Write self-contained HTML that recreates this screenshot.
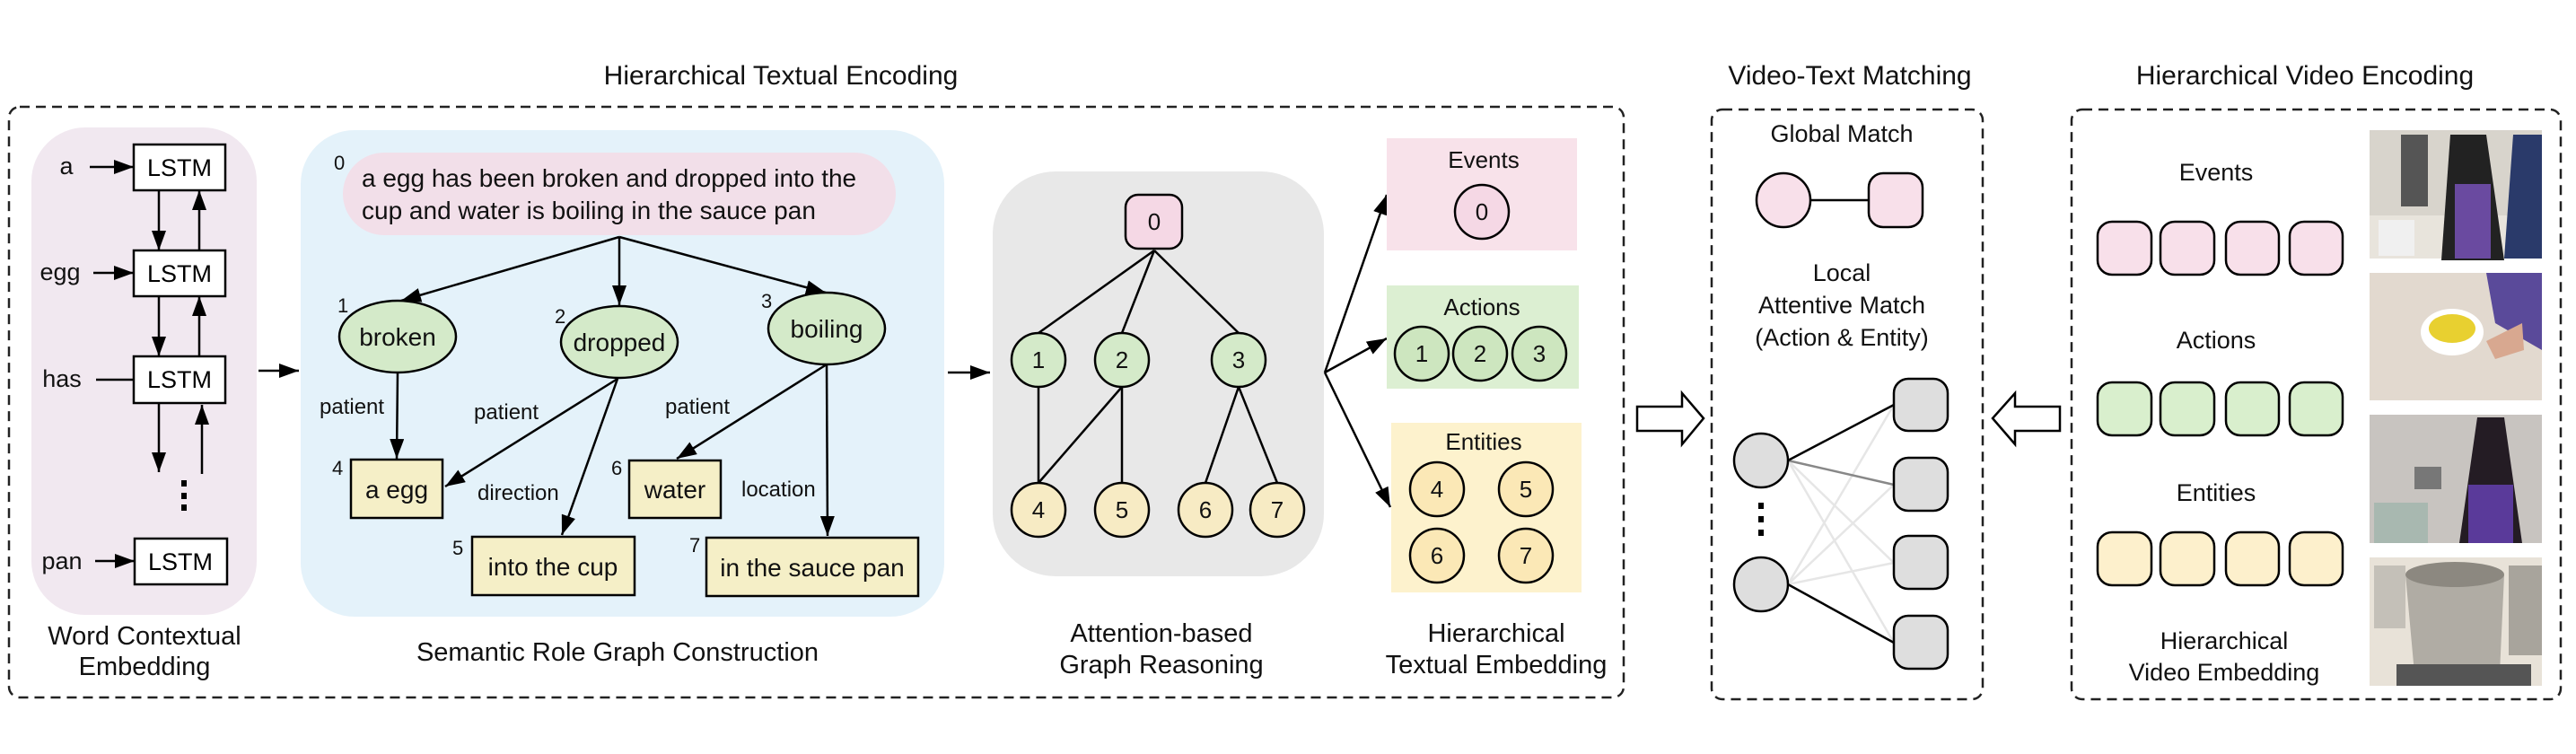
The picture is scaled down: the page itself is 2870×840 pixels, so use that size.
<!DOCTYPE html>
<html><head><meta charset="utf-8"><style>html,body{margin:0;padding:0;background:#fff}svg{display:block}</style></head>
<body>
<svg width="2870" height="840" viewBox="0 0 2870 840" xmlns="http://www.w3.org/2000/svg" font-family="Liberation Sans, sans-serif">
<defs>
<marker id="ah" markerWidth="10" markerHeight="8" refX="9" refY="4" orient="auto" markerUnits="userSpaceOnUse" viewBox="0 0 10 8">
</marker>
<marker id="a" viewBox="0 0 10 10" refX="10" refY="5" markerWidth="22" markerHeight="16" markerUnits="userSpaceOnUse" orient="auto" preserveAspectRatio="none"><path d="M0,0 L10,5 L0,10 z" fill="#000"/></marker>
</defs>
<g fill="#111">
<text x="870" y="94" font-size="30" text-anchor="middle">Hierarchical Textual Encoding</text>
<text x="2061" y="94" font-size="30" text-anchor="middle">Video-Text Matching</text>
<text x="2568" y="94" font-size="30" text-anchor="middle">Hierarchical Video Encoding</text>
</g>
<!-- dashed boxes -->
<g fill="none" stroke="#222" stroke-width="2.5" stroke-dasharray="11 7">
<rect x="10" y="119" width="1799" height="658" rx="12"/>
<rect x="1907" y="122" width="302" height="657" rx="12"/>
<rect x="2308" y="122" width="545" height="657" rx="12"/>
</g>
<!-- word contextual panel -->
<rect x="35" y="142" width="251" height="543" rx="60" fill="#f1e8f0"/>
<g fill="#fff" stroke="#000" stroke-width="2.5">
<rect x="149" y="161" width="102" height="51"/>
<rect x="149" y="279" width="102" height="51"/>
<rect x="149" y="397" width="102" height="52"/>
<rect x="150" y="600" width="103" height="51"/>
</g>
<g font-size="27" text-anchor="middle" fill="#000">
<text x="200" y="196">LSTM</text><text x="200" y="314">LSTM</text><text x="200" y="432">LSTM</text><text x="201" y="635">LSTM</text>
</g>
<g font-size="27" fill="#111" text-anchor="middle">
<text x="74" y="194">a</text><text x="67" y="312">egg</text><text x="69" y="431">has</text><text x="69" y="634">pan</text>
</g>
<g stroke="#000" stroke-width="2.5" marker-end="url(#a)">
<line x1="100" y1="186" x2="149" y2="186"/>
<line x1="104" y1="304" x2="149" y2="304"/>
<line x1="106" y1="625" x2="150" y2="625"/>
<line x1="177" y1="212" x2="177" y2="279"/>
<line x1="222" y1="279" x2="222" y2="212"/>
<line x1="177" y1="330" x2="177" y2="397"/>
<line x1="222" y1="397" x2="222" y2="330"/>
<line x1="177" y1="449" x2="177" y2="526"/>
<line x1="225" y1="528" x2="225" y2="451"/>
<line x1="288" y1="413" x2="333" y2="413"/>
<line x1="1056" y1="415" x2="1103" y2="415"/>
</g>
<line x1="107" y1="423" x2="149" y2="423" stroke="#000" stroke-width="2.5"/>
<g fill="#000"><rect x="202" y="535" width="6" height="7"/><rect x="202" y="549" width="6" height="7"/><rect x="202" y="562" width="6" height="7"/></g>
<g font-size="29" text-anchor="middle" fill="#111">
<text x="161" y="718">Word Contextual</text><text x="161" y="752">Embedding</text>
<text x="688" y="736">Semantic Role Graph Construction</text>
<text x="1294" y="715">Attention-based</text><text x="1294" y="750">Graph Reasoning</text>
<text x="1667" y="715">Hierarchical</text><text x="1667" y="750">Textual Embedding</text>
</g>
<!-- semantic panel -->
<rect x="335" y="145" width="717" height="542" rx="60" fill="#e4f2fa"/>
<rect x="382" y="170" width="616" height="92" rx="46" fill="#f2dfe9"/>
<g font-size="28" fill="#111">
<text x="403" y="208">a egg has been broken and dropped into the</text>
<text x="403" y="244">cup and water is boiling in the sauce pan</text>
</g>
<g font-size="22" fill="#111">
<text x="372" y="189">0</text><text x="376" y="348">1</text><text x="618" y="360">2</text><text x="848" y="343">3</text>
<text x="370" y="529">4</text><text x="504" y="618">5</text><text x="681" y="529">6</text><text x="768" y="615">7</text>
</g>
<g stroke="#000" stroke-width="2.5" fill="none" marker-end="url(#a)">
<line x1="690" y1="264" x2="447" y2="335"/>
<line x1="690" y1="264" x2="690" y2="340"/>
<line x1="690" y1="264" x2="920" y2="326"/>
<line x1="443" y1="415" x2="442" y2="511"/>
<line x1="688" y1="422" x2="496" y2="542"/>
<line x1="688" y1="422" x2="626" y2="596"/>
<line x1="921" y1="406" x2="754" y2="511"/>
<line x1="921" y1="406" x2="922" y2="597"/>
</g>
<g fill="#d4eac9" stroke="#000" stroke-width="2.5">
<ellipse cx="443" cy="375" rx="65" ry="40"/>
<ellipse cx="690" cy="381" rx="65" ry="40"/>
<ellipse cx="921" cy="366" rx="65" ry="40"/>
</g>
<g fill="#f5efc7" stroke="#000" stroke-width="2.5">
<rect x="391" y="512" width="102" height="65"/>
<rect x="526" y="598" width="181" height="65"/>
<rect x="701" y="513" width="102" height="64"/>
<rect x="787" y="599" width="236" height="65"/>
</g>
<g font-size="28" text-anchor="middle" fill="#111">
<text x="443" y="385">broken</text><text x="690" y="391">dropped</text><text x="921" y="376">boiling</text>
<text x="442" y="555">a egg</text><text x="616" y="641">into the cup</text><text x="752" y="555">water</text><text x="905" y="642">in the sauce pan</text>
</g>
<g font-size="24" fill="#111">
<text x="356" y="461">patient</text><text x="528" y="467">patient</text><text x="532" y="557">direction</text>
<text x="741" y="461">patient</text><text x="826" y="553">location</text>
</g>
<!-- attention panel -->
<rect x="1106" y="191" width="369" height="451" rx="70" fill="#e8e8e8"/>
<g stroke="#000" stroke-width="2.5">
<line x1="1286" y1="279" x2="1157" y2="371"/><line x1="1286" y1="279" x2="1250" y2="371"/><line x1="1286" y1="279" x2="1380" y2="371"/>
<line x1="1157" y1="431" x2="1157" y2="538"/><line x1="1250" y1="431" x2="1157" y2="538"/><line x1="1250" y1="431" x2="1250" y2="538"/>
<line x1="1380" y1="431" x2="1343" y2="538"/><line x1="1380" y1="431" x2="1423" y2="538"/>
</g>
<rect x="1254" y="217" width="63" height="60" rx="14" fill="#f5d8e5" stroke="#000" stroke-width="2.5"/>
<g stroke="#000" stroke-width="2.5">
<g fill="#d4eac9"><circle cx="1157" cy="401" r="30"/><circle cx="1250" cy="401" r="30"/><circle cx="1380" cy="401" r="30"/></g>
<g fill="#f7ebc4"><circle cx="1157" cy="568" r="30"/><circle cx="1250" cy="568" r="30"/><circle cx="1343" cy="568" r="30"/><circle cx="1423" cy="568" r="30"/></g>
</g>
<g font-size="26" text-anchor="middle" fill="#111">
<text x="1286" y="256">0</text>
<text x="1157" y="410">1</text><text x="1250" y="410">2</text><text x="1380" y="410">3</text>
<text x="1157" y="577">4</text><text x="1250" y="577">5</text><text x="1343" y="577">6</text><text x="1423" y="577">7</text>
</g>
<!-- fan out -->
<g stroke="#000" stroke-width="2.5" marker-end="url(#a)">
<line x1="1476" y1="415" x2="1545" y2="217"/>
<line x1="1476" y1="415" x2="1545" y2="377"/>
<line x1="1476" y1="415" x2="1549" y2="565"/>
</g>
<rect x="1545" y="154" width="212" height="125" fill="#f8e2ea"/>
<rect x="1545" y="318" width="214" height="115" fill="#dcefd2"/>
<rect x="1550" y="471" width="212" height="189" fill="#fdf2cd"/>
<g stroke="#000" stroke-width="2.5">
<circle cx="1651" cy="236" r="30" fill="#f5d8e5"/>
<g fill="#cde6bf"><circle cx="1584" cy="394" r="30"/><circle cx="1649" cy="394" r="30"/><circle cx="1715" cy="394" r="30"/></g>
<g fill="#fbe8b6"><circle cx="1601" cy="545" r="30"/><circle cx="1700" cy="545" r="30"/><circle cx="1601" cy="619" r="30"/><circle cx="1700" cy="619" r="30"/></g>
</g>
<g font-size="26" text-anchor="middle" fill="#111">
<text x="1653" y="187">Events</text><text x="1651" y="245">0</text>
<text x="1651" y="351">Actions</text><text x="1584" y="403">1</text><text x="1649" y="403">2</text><text x="1715" y="403">3</text>
<text x="1653" y="501">Entities</text><text x="1601" y="554">4</text><text x="1700" y="554">5</text><text x="1601" y="628">6</text><text x="1700" y="628">7</text>
</g>
<!-- hollow arrows -->
<path d="M1824,453 L1874,453 L1874,438 L1898,466 L1874,495 L1874,480 L1824,480 Z" fill="#fff" stroke="#000" stroke-width="2.5"/>
<path d="M2295,453 L2245,453 L2245,438 L2220,466 L2245,495 L2245,480 L2295,480 Z" fill="#fff" stroke="#000" stroke-width="2.5"/>
<!-- matching -->
<g font-size="27" text-anchor="middle" fill="#111">
<text x="2052" y="158">Global Match</text>
<text x="2052" y="313">Local</text><text x="2052" y="349">Attentive Match</text><text x="2052" y="385">(Action &amp; Entity)</text>
</g>
<line x1="2017" y1="223" x2="2082" y2="223" stroke="#000" stroke-width="2.5"/>
<circle cx="1987" cy="223" r="30" fill="#f8e0ea" stroke="#000" stroke-width="2.5"/>
<rect x="2082" y="193" width="60" height="60" rx="16" fill="#f8e0ea" stroke="#000" stroke-width="2.5"/>
<g stroke-width="2.5">
<line x1="1992" y1="513" x2="2110" y2="627" stroke="#e6e6e6"/><line x1="1992" y1="513" x2="2110" y2="716" stroke="#e6e6e6"/>
<line x1="1992" y1="651" x2="2110" y2="451" stroke="#e6e6e6"/><line x1="1992" y1="651" x2="2110" y2="540" stroke="#e6e6e6"/><line x1="1992" y1="651" x2="2110" y2="627" stroke="#e6e6e6"/>
<line x1="1992" y1="513" x2="2110" y2="540" stroke="#888"/>
<line x1="1992" y1="513" x2="2110" y2="451" stroke="#000"/>
<line x1="1992" y1="651" x2="2110" y2="716" stroke="#000"/>
</g>
<g fill="#dedede" stroke="#000" stroke-width="2.5">
<circle cx="1962" cy="513" r="30"/><circle cx="1962" cy="651" r="30"/>
<rect x="2110" y="422" width="60" height="58" rx="16"/><rect x="2110" y="510" width="60" height="59" rx="16"/>
<rect x="2110" y="597" width="60" height="59" rx="16"/><rect x="2110" y="686" width="60" height="59" rx="16"/>
</g>
<g fill="#000"><rect x="1959" y="560" width="6" height="7"/><rect x="1959" y="575" width="6" height="7"/><rect x="1959" y="590" width="6" height="7"/></g>
<!-- video encoding -->
<g font-size="27" text-anchor="middle" fill="#111">
<text x="2469" y="201">Events</text><text x="2469" y="388">Actions</text><text x="2469" y="558">Entities</text>
<text x="2478" y="723">Hierarchical</text><text x="2478" y="758">Video Embedding</text>
</g>
<g stroke="#000" stroke-width="2.5">
<g fill="#f8e0ea"><rect x="2337" y="247" width="60" height="59" rx="16"/><rect x="2407" y="247" width="60" height="59" rx="16"/><rect x="2480" y="247" width="59" height="59" rx="16"/><rect x="2551" y="247" width="59" height="59" rx="16"/></g>
<g fill="#d9efcd"><rect x="2337" y="426" width="60" height="59" rx="16"/><rect x="2407" y="426" width="60" height="59" rx="16"/><rect x="2480" y="426" width="59" height="59" rx="16"/><rect x="2551" y="426" width="59" height="59" rx="16"/></g>
<g fill="#fdf0cc"><rect x="2337" y="593" width="60" height="59" rx="16"/><rect x="2407" y="593" width="60" height="59" rx="16"/><rect x="2480" y="593" width="59" height="59" rx="16"/><rect x="2551" y="593" width="59" height="59" rx="16"/></g>
</g>
<!-- photos -->
<g>
<rect x="2640" y="145" width="192" height="143" fill="#d8d4cc"/>
<rect x="2640" y="240" width="192" height="48" fill="#e8e4dc"/>
<rect x="2675" y="150" width="30" height="80" fill="#555"/>
<path d="M2730,150 L2770,150 L2790,290 L2720,290 Z" fill="#222"/>
<rect x="2735" y="205" width="40" height="83" fill="#6a4aa0"/>
<path d="M2800,150 L2832,150 L2832,288 L2790,288 Z" fill="#2a3a6a"/>
<rect x="2650" y="245" width="40" height="40" fill="#f0f0f0"/>
<rect x="2640" y="304" width="192" height="142" fill="#e2d9cf"/>
<path d="M2770,304 L2832,304 L2832,390 L2780,360 Z" fill="#5a4a9a"/>
<ellipse cx="2732" cy="370" rx="35" ry="26" fill="#fff"/>
<ellipse cx="2732" cy="366" rx="26" ry="16" fill="#e8d030"/>
<path d="M2770,380 L2810,360 L2812,390 L2780,400 Z" fill="#d8a890"/>
<rect x="2640" y="462" width="192" height="143" fill="#c8c4c0"/>
<path d="M2760,465 L2790,465 L2810,605 L2740,605 Z" fill="#241c24"/>
<rect x="2750" y="540" width="50" height="65" fill="#5a3a9a"/>
<rect x="2645" y="560" width="60" height="45" fill="#a8b8b0"/>
<rect x="2690" y="520" width="30" height="25" fill="#777"/>
<rect x="2640" y="621" width="192" height="143" fill="#e8e2d8"/>
<path d="M2680,640 L2790,640 L2785,750 L2690,750 Z" fill="#b0aca4"/>
<ellipse cx="2735" cy="640" rx="55" ry="14" fill="#8c8880"/>
<rect x="2795" y="630" width="37" height="100" fill="#a8a49c"/>
<rect x="2645" y="630" width="35" height="70" fill="#c4c0b8"/>
<rect x="2670" y="740" width="150" height="24" fill="#555"/>
</g>
</svg>
</body></html>
